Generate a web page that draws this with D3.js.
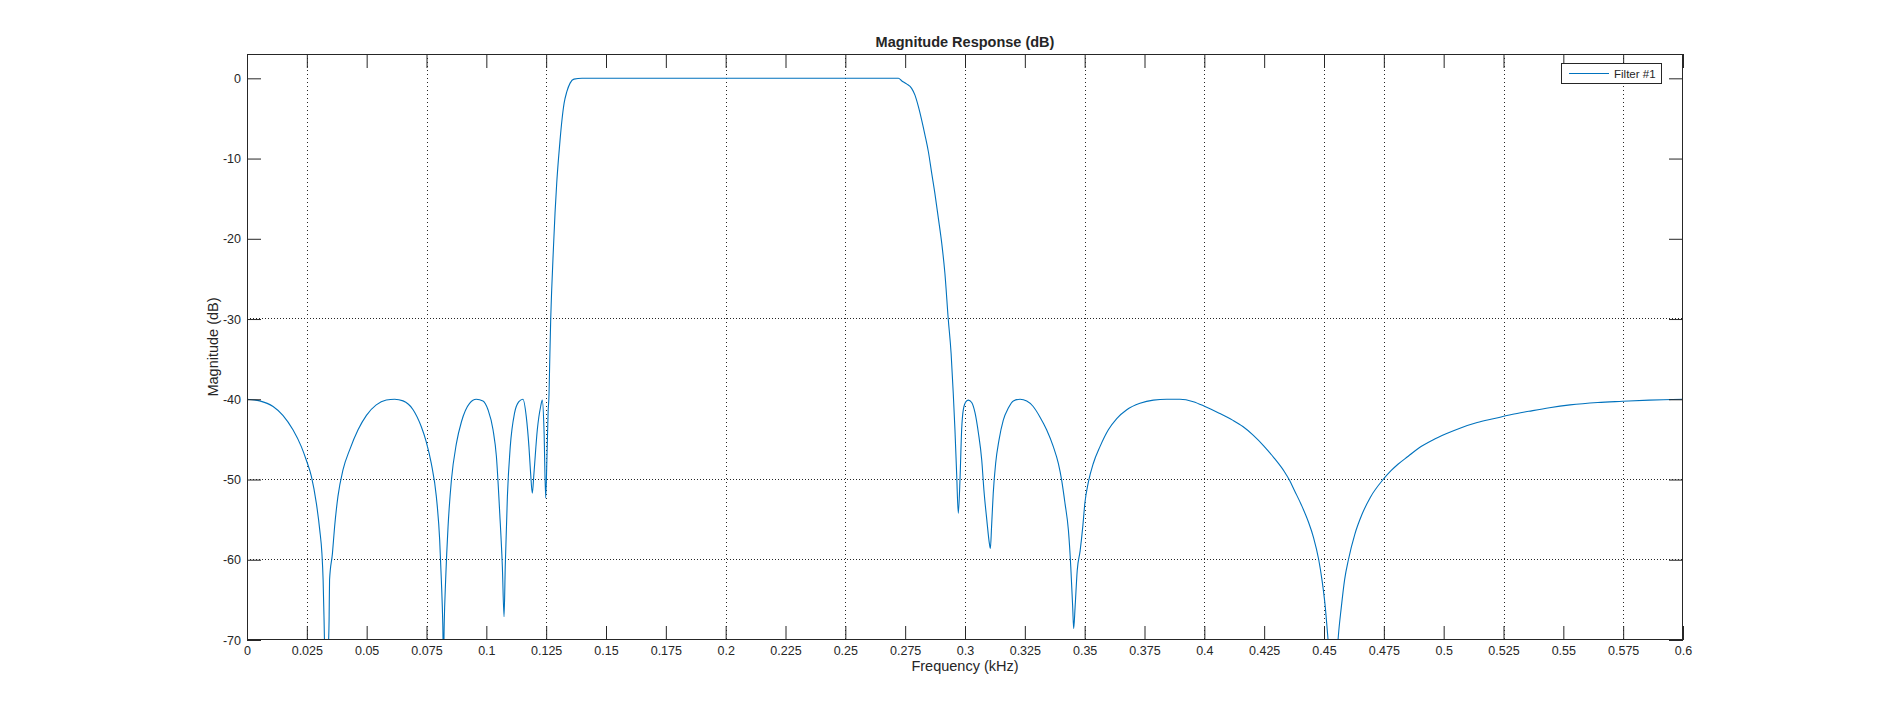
<!DOCTYPE html>
<html>
<head>
<meta charset="utf-8">
<script src="https://cdn.jsdelivr.net/npm/d3@7"></script>
<style>
  body { margin: 0; background: #fff; }
  text { font-family: "Liberation Sans", Helvetica, Arial, sans-serif; fill: #262626; }
</style>
</head>
<body>
<svg id="chart" width="1898" height="718"></svg>
<script>
// Frequency points (kHz)
const freqKHz = [
  0, 0.0053, 0.0109, 0.015, 0.0192, 0.0227, 0.0248, 0.0269, 0.029, 0.0304,
  0.0313, 0.0318, 0.0322, 0.0325, 0.0332, 0.0339, 0.0343, 0.0345, 0.0357, 0.0366,
  0.038, 0.0401, 0.0429, 0.0464, 0.0499, 0.054, 0.0582, 0.0617, 0.0652, 0.0694,
  0.0728, 0.0749, 0.077, 0.0791, 0.0805, 0.0812, 0.0818, 0.0821, 0.0824, 0.083,
  0.084, 0.0854, 0.0875, 0.0896, 0.093, 0.0958, 0.0986, 0.1007, 0.1028, 0.1042,
  0.1056, 0.1067, 0.1074, 0.1079, 0.1088, 0.11, 0.1118, 0.1136, 0.1153, 0.1167,
  0.1178, 0.1185, 0.1192, 0.1199, 0.1213, 0.1227, 0.1234, 0.1241, 0.1248, 0.1253,
  0.1258, 0.1262, 0.1265, 0.1269, 0.1273, 0.128, 0.1287, 0.1294, 0.1301, 0.1308,
  0.1316, 0.1325, 0.1336, 0.135, 0.1366, 0.14, 0.2, 0.2722, 0.2735, 0.2756,
  0.2777, 0.2791, 0.2805, 0.2819, 0.2833, 0.2847, 0.2861, 0.2874, 0.2888, 0.2903,
  0.2916, 0.293, 0.2942, 0.2951, 0.2958, 0.2965, 0.2972, 0.2979, 0.2986, 0.2993,
  0.3004, 0.3014, 0.3028, 0.3042, 0.3056, 0.307, 0.3079, 0.3091, 0.3102, 0.3106,
  0.3111, 0.3118, 0.3128, 0.3142, 0.316, 0.3181, 0.3202, 0.323, 0.3258, 0.3285,
  0.3313, 0.3341, 0.3369, 0.339, 0.3404, 0.3418, 0.3432, 0.3442, 0.345, 0.3454,
  0.346, 0.3469, 0.3481, 0.3492, 0.3501, 0.3515, 0.3536, 0.3564, 0.3599, 0.3634,
  0.3676, 0.3731, 0.3787, 0.3843, 0.3898, 0.3954, 0.4003, 0.406, 0.4118, 0.4161,
  0.4205, 0.4248, 0.4291, 0.4334, 0.4356, 0.4377, 0.4406, 0.4435, 0.4456, 0.4478,
  0.4492, 0.4504, 0.4517, 0.4525, 0.4538, 0.4552, 0.456, 0.4572, 0.4586, 0.4602,
  0.4629, 0.4658, 0.4694, 0.4747, 0.478, 0.4809, 0.4852, 0.4895, 0.4953, 0.501,
  0.5068, 0.514, 0.5212, 0.5284, 0.5356, 0.5442, 0.5528, 0.5644, 0.5747, 0.5859,
  0.6
];

// Magnitude (dB) at each of those points
const magDB = [
  -40, -40.2, -40.9, -42.0, -43.8, -45.9, -47.6, -49.6, -53, -56.3,
  -59.2, -62.5, -67.5, -72, -85, -72, -67.5, -62.5, -59.2, -55.9,
  -52.1, -48.8, -46.3, -43.8, -42, -40.7, -40.1, -40, -40.2, -41.3,
  -43.4, -45.3, -48, -52.1, -57.5, -62.5, -68, -73, -68, -62.5,
  -55.9, -50.1, -45.5, -42.8, -40.5, -40, -40.2, -41.3, -43.8, -47.1,
  -54.2, -60.9, -67.1, -60.9, -52.1, -45.9, -41.7, -40.3, -40, -42.2,
  -45.9, -49.2, -51.7, -49.2, -43.8, -40.9, -40.1, -43.8, -52.3, -47.6,
  -41.7, -39.3, -35.1, -30, -26.4, -21.4, -16.8, -13.1, -10.2, -7.7,
  -5.2, -3.1, -1.7, -0.6, -0.1, 0, 0, 0, -0.3, -0.7,
  -1.25, -2.1, -3.5, -5.2, -7.1, -9.15, -11.85, -14.3, -17.3, -20.6,
  -24.3, -30, -34.3, -39.3, -43.8, -49.2, -54.2, -50.1, -43.8, -41.3,
  -40.3, -40.1, -40.4, -41.7, -44.2, -47.6, -51.3, -55, -58, -58.6,
  -55.9, -51.7, -48, -45.1, -42.6, -41.1, -40.2, -40, -40.2, -40.9,
  -42.2, -43.8, -45.9, -48, -50.1, -53, -56.3, -60.9, -65.9, -68.6,
  -65.9, -61.3, -58.9, -55.9, -52.9, -50.4, -48, -45.9, -43.8, -42.4,
  -41.3, -40.5, -40.1, -40, -40, -40.3, -40.9, -41.7, -42.6, -43.4,
  -44.5, -45.8, -47.3, -49.0, -50.1, -51.4, -53.2, -55.3, -57.2, -60,
  -62.6, -65.5, -70, -73, -85, -73, -69.5, -66, -62.5, -60,
  -56.8, -54.4, -52.2, -50, -48.9, -48.1, -47.1, -46.1, -45.1, -44.3,
  -43.6, -42.9, -42.4, -41.9, -41.5, -41.05, -40.7, -40.4, -40.25, -40.1,
  -40
];

const xTicks = d3.range(0, 0.6001, 0.025);
const yTicks = [0, -10, -20, -30, -40, -50, -60, -70];
// grid lines that actually show up in the picture
const gridFreqs = [0.025, 0.075, 0.125, 0.2, 0.25, 0.3, 0.35, 0.4, 0.45, 0.475, 0.525, 0.575];
const gridLevels = [-30, -50, -60, -70];
const seriesName = "Filter #1";

const svg = d3.select("#chart");
const margin = { top: 54, right: 215, bottom: 78, left: 247 };
const width = 1898 - margin.left - margin.right;
const height = 718 - margin.top - margin.bottom;

const x = d3.scaleLinear().domain([0, 0.6]).range([0, width]);
const y = d3.scaleLinear().domain([-70, 3.03]).range([height, 0]);

const g = svg.append("g").attr("transform", `translate(${margin.left},${margin.top})`);

svg.append("defs").append("clipPath").attr("id", "plotclip")
  .append("rect").attr("width", width).attr("height", height);

// dotted grid
g.selectAll(".vgrid")
  .data(gridFreqs)
  .enter()
  .append("line")
  .attr("x1", d => Math.round(x(d)) + 0.5)
  .attr("x2", d => Math.round(x(d)) + 0.5)
  .attr("y1", 0)
  .attr("y2", height)
  .attr("stroke", "#262626")
  .attr("stroke-dasharray", "1,3");

g.selectAll(".hgrid")
  .data(gridLevels)
  .enter()
  .append("line")
  .attr("x1", 0)
  .attr("x2", width)
  .attr("y1", d => Math.round(y(d)) - 0.5)
  .attr("y2", d => Math.round(y(d)) - 0.5)
  .attr("stroke", "#262626")
  .attr("stroke-dasharray", "1,2");

// the response curve
const points = freqKHz.map((f, i) => [f, magDB[i]]);
const line = d3.line()
  .x(d => x(d[0]))
  .y(d => y(d[1]))
  .curve(d3.curveMonotoneX);

g.append("path")
  .datum(points)
  .attr("clip-path", "url(#plotclip)")
  .attr("fill", "none")
  .attr("stroke", "#0072BD")
  .attr("stroke-width", 1.1)
  .attr("d", line);

// axes, ticks point inwards on all four sides
const fmtX = d => String(+d.toFixed(3));
const fmtY = d => String(d);

g.append("g")
  .attr("transform", `translate(0,${height})`)
  .call(d3.axisBottom(x).tickValues(xTicks).tickFormat(fmtX).tickSizeInner(-14).tickSizeOuter(0).tickPadding(6));
g.append("g")
  .call(d3.axisLeft(y).tickValues(yTicks).tickFormat(fmtY).tickSizeInner(-14).tickSizeOuter(0).tickPadding(6));
g.append("g")
  .call(d3.axisTop(x).tickValues(xTicks).tickFormat("").tickSizeInner(-14).tickSizeOuter(0));
g.append("g")
  .attr("transform", `translate(${width},0)`)
  .call(d3.axisRight(y).tickValues(yTicks).tickFormat("").tickSizeInner(-14).tickSizeOuter(0));

g.selectAll(".domain").remove();
g.selectAll(".tick line").attr("stroke", "#262626");
g.selectAll(".tick text")
  .attr("font-family", "Liberation Sans, Helvetica, Arial, sans-serif")
  .attr("font-size", 12.5)
  .attr("fill", "#333");

g.append("rect")
  .attr("x", 0.5)
  .attr("y", 0.5)
  .attr("width", width - 1)
  .attr("height", height - 1)
  .attr("fill", "none")
  .attr("stroke", "#262626");

// title and axis labels
svg.append("text")
  .attr("x", margin.left + width / 2)
  .attr("y", 47)
  .attr("text-anchor", "middle")
  .attr("font-size", 14.5)
  .attr("font-weight", "bold")
  .text("Magnitude Response (dB)");

svg.append("text")
  .attr("x", margin.left + width / 2)
  .attr("y", 671)
  .attr("text-anchor", "middle")
  .attr("font-size", 14.5)
  .text("Frequency (kHz)");

svg.append("text")
  .attr("transform", `translate(218,${margin.top + height / 2}) rotate(-90)`)
  .attr("text-anchor", "middle")
  .attr("font-size", 14.5)
  .text("Magnitude (dB)");

// legend
const legend = svg.append("g").attr("transform", "translate(1561,63)");
legend.append("rect")
  .attr("x", 0.5)
  .attr("y", 0.5)
  .attr("width", 100)
  .attr("height", 20)
  .attr("fill", "#fff")
  .attr("stroke", "#262626");
legend.append("line")
  .attr("x1", 8)
  .attr("x2", 48)
  .attr("y1", 10.5)
  .attr("y2", 10.5)
  .attr("stroke", "#0072BD")
  .attr("stroke-width", 1.1);
legend.append("text")
  .attr("x", 53)
  .attr("y", 14.5)
  .attr("font-size", 11.5)
  .text(seriesName);
</script>
</body>
</html>
